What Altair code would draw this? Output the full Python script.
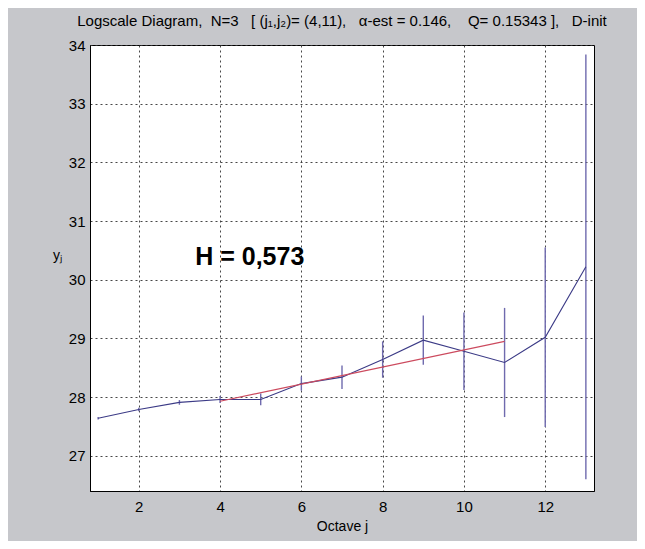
import altair as alt
import pandas as pd

octaves = [1, 2, 3, 4, 5, 6, 7, 8, 9, 10, 11, 12, 13]
yj = [27.64, 27.79, 27.91, 27.96, 27.96, 28.23, 28.34, 28.64, 28.97, 28.78, 28.59, 29.02, 30.22]
half_ci = [0.02, 0.03, 0.04, 0.06, 0.10, 0.12, 0.20, 0.31, 0.42, 0.66, 0.93, 1.53, 3.62]
fit_j = [4, 11]
fit_y = [27.93, 28.95]
x_ticks = [2, 4, 6, 8, 10, 12]
y_ticks = [27, 28, 29, 30, 31, 32, 33, 34]
annot_text = ["H = 0,573"]
annot_x = [4.73]
annot_y = [30.38]

df = pd.DataFrame({"j": octaves, "y": yj,
                   "lo": [a - b for a, b in zip(yj, half_ci)],
                   "hi": [a + b for a, b in zip(yj, half_ci)]})
fit = pd.DataFrame({"j": fit_j, "y": fit_y})
ann = pd.DataFrame({"t": annot_text, "x": annot_x, "y": annot_y})

FONT = "Liberation Sans"
NB = "\u00a0"
title_text = ("Logscale Diagram," + NB * 2 + "N=3" + NB * 3 + "[ (j₁,j₂)= (4,11)," + NB * 3 +
              "α-est = 0.146," + NB * 4 + "Q= 0.15343 ]," + NB * 3 + "D-init")

xs = alt.Scale(domain=[0.8, 13.2], nice=False, zero=False)
ys = alt.Scale(domain=[26.4, 34], nice=False, zero=False)

xax = alt.Axis(values=x_ticks, format="d", title="Octave j", grid=True, gridDash=[2, 3], gridColor="#333333",
               gridOpacity=0.9, labelFont=FONT, labelFontSize=15, labelColor="black",
               titleFont=FONT, titleFontSize=14, titleFontWeight="normal", titleColor="black",
               domainColor="black", tickSize=0, labelPadding=8, titlePadding=5)
yax = alt.Axis(values=y_ticks, format="d", title="yⱼ", grid=True, gridDash=[2, 3], gridColor="#333333",
               gridOpacity=0.9, labelFont=FONT, labelFontSize=15, labelColor="black",
               titleFont=FONT, titleFontSize=14, titleFontWeight="normal", titleColor="black",
               titleAngle=0, titleX=-33, titleY=217, domainColor="black", tickSize=0, labelPadding=5)

bars = alt.Chart(df).mark_rule(color="#6f6aae", strokeWidth=1.4).encode(
    x=alt.X("j:Q", scale=xs, axis=xax),
    y=alt.Y("lo:Q", scale=ys, axis=yax),
    y2="hi:Q")
line = alt.Chart(df).mark_line(color="#3b3a86", strokeWidth=1.1).encode(
    x=alt.X("j:Q", scale=xs), y=alt.Y("y:Q", scale=ys))
red = alt.Chart(fit).mark_line(color="#cc4a5e", strokeWidth=1.1).encode(
    x=alt.X("j:Q", scale=xs), y=alt.Y("y:Q", scale=ys))
txt = alt.Chart(ann).mark_text(font=FONT, fontSize=25, fontWeight="bold", color="black").encode(
    x=alt.X("x:Q", scale=xs), y=alt.Y("y:Q", scale=ys), text="t:N")

chart = alt.layer(bars, line, red, txt).properties(
    width=504, height=446,
    title=alt.TitleParams(title_text, font=FONT, fontSize=15, fontWeight="normal",
                          color="black", offset=9, anchor="middle"),
    background="#c6c7cb",
    padding={"left": 82, "top": 37, "right": 43, "bottom": 50},
    autosize=alt.AutoSizeParams(type="none"),
).configure_view(fill="white", stroke="black", strokeWidth=1)

chart.save("out.html", embed_options={"renderer": "svg", "actions": False})
